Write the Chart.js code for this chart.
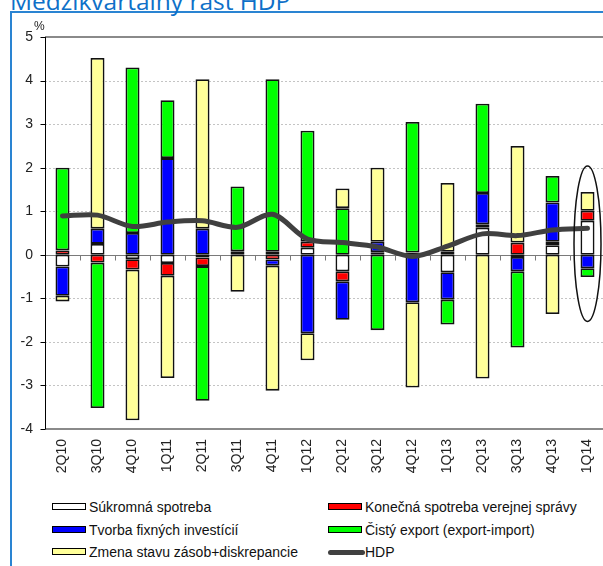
<!DOCTYPE html>
<html>
<head>
<meta charset="utf-8">
<script src="https://cdn.jsdelivr.net/npm/chart.js@4.4.1/dist/chart.umd.min.js"></script>
<style>
  body { margin: 0; width: 603px; height: 566px; overflow: hidden; background: #fff; position: relative;
         font-family: "Liberation Sans", Arial, sans-serif; }
  #frame { position: absolute; left: 10px; top: 11px; width: 700px; height: 600px;
           border-top: 2px solid #2a84d2; border-left: 2px solid #2a84d2; }
  #title { position: absolute; left: 10px; top: -11px; font: 24.5px "Open Sans"; line-height: 24px;
           color: #0e70c8; white-space: nowrap; }
  #chartBox { position: absolute; left: 0; top: 0; width: 620px; height: 485px; }
  .item { position: absolute; font-size: 14px; color: #111; line-height: 16px; white-space: nowrap; }
  .swatch { position: absolute; left: 0; top: 4px; width: 32px; height: 5px; border: 1.5px solid #000; }
  .lineSwatch { position: absolute; left: 0; top: 6px; width: 37px; height: 5px; border-radius: 3px; background: #404040; }
  .item span { position: absolute; left: 37px; top: 0; }
</style>
</head>
<body>
<div id="frame"></div>
<div id="title">Medzikvartálny rast HDP</div>
<div id="chartBox"><canvas id="gdpChart" width="620" height="485"></canvas></div>
<div id="legend"></div>
<script>
// Quarters on the x axis
const categories = ["2Q10", "3Q10", "4Q10", "1Q11", "2Q11", "3Q11", "4Q11", "1Q12",
                    "2Q12", "3Q12", "4Q12", "1Q13", "2Q13", "3Q13", "4Q13", "1Q14"];

// Contributions to growth (p.p.)
const privateCons = [-0.27, 0.25, -0.10, -0.19, -0.06, 0.00, 0.07, 0.16, -0.38, 0.00, 0.00, -0.40, 0.62, -0.05, 0.22, 0.78];
const govCons     = [0.10, -0.18, -0.24, -0.29, -0.20, 0.08, -0.11, 0.14, -0.23, 0.06, 0.05, 0.07, 0.08, 0.28, 0.08, 0.23];
const investment  = [-0.67, 0.35, 0.50, 2.22, 0.60, 0.00, -0.14, -1.80, -0.88, 0.24, -1.09, -0.63, 0.72, -0.33, 0.90, -0.31];
const netExport   = [1.90, -3.34, 3.80, 1.33, -3.09, 1.49, 3.96, 2.55, 1.07, -1.73, 3.00, -0.57, 2.05, -1.75, 0.61, -0.20];
const inventories = [-0.13, 3.92, -3.46, -2.35, 3.43, -0.85, -2.87, -0.62, 0.45, 1.70, -1.96, 1.58, -2.84, 2.22, -1.36, 0.43];
const gdp         = [0.89, 0.91, 0.65, 0.75, 0.78, 0.63, 0.93, 0.36, 0.28, 0.18, -0.04, 0.20, 0.48, 0.44, 0.57, 0.61];

const seriesNames = ["Súkromná spotreba", "Konečná spotreba verejnej správy", "Tvorba fixných investícií",
                     "Čistý export (export-import)", "Zmena stavu zásob+diskrepancie", "HDP"];
const barColors = ["#ffffff", "#ff0000", "#0000ff", "#00ff00", "#ffff99"];
const lineColor = "#404040";

// Y axis range and the circled quarter
const yMin = -4, yMax = 5;
const highlightIndex = 15;
const highlightRange = [-1.53, 2.04];

const fontFamily = '"Liberation Sans", Arial, sans-serif';

function barSet(label, data, color) {
  return {
    type: "bar", label: label, data: data, backgroundColor: color,
    borderColor: "#111", borderWidth: 1.8, borderSkipped: false,
    stack: "parts", order: 2, barPercentage: 0.4, categoryPercentage: 1
  };
}

// Gridlines, axes and the zero line with its tick marks
const decor = {
  id: "decor",
  beforeDatasetsDraw(chart) {
    const { ctx, chartArea: a, scales: { y } } = chart;
    const seg = (x1, y1, x2, y2) => { ctx.beginPath(); ctx.moveTo(x1, y1); ctx.lineTo(x2, y2); ctx.stroke(); };
    ctx.save();
    ctx.strokeStyle = "#c4c4c4"; ctx.lineWidth = 1; ctx.setLineDash([2, 2]);
    for (let v = yMin + 1; v < yMax; v++) {
      if (v === 0) continue;
      const py = Math.round(y.getPixelForValue(v)) + 0.5;
      seg(a.left, py, a.right, py);
    }
    ctx.setLineDash([]);
    ctx.strokeStyle = "#8a8a8a"; ctx.lineWidth = 2;
    seg(a.left, a.top, a.right, a.top);
    seg(a.left, a.bottom, a.right, a.bottom);
    const z = Math.round(y.getPixelForValue(0)) + 0.5;
    ctx.lineWidth = 1; ctx.strokeStyle = "#7a7a7a";
    seg(a.left, z, a.right, z);
    const step = (a.right - a.left) / categories.length;
    for (let i = 1; i <= categories.length; i++) {
      const px = Math.round(a.left + i * step) + 0.5;
      seg(px, z, px, z + 5);
    }
    ctx.strokeStyle = "#000";
    const ax = Math.round(a.left) + 0.5;
    seg(ax, a.top, ax, a.bottom);
    for (let v = yMin; v <= yMax; v++) {
      const py = Math.round(y.getPixelForValue(v)) + 0.5;
      seg(ax - 5, py, ax, py);
    }
    ctx.restore();
  },
  afterDatasetsDraw(chart) {
    const { ctx, scales: { x, y } } = chart;
    ctx.save();
    const cx = x.getPixelForValue(highlightIndex);
    const top = y.getPixelForValue(highlightRange[1]);
    const bottom = y.getPixelForValue(highlightRange[0]);
    ctx.strokeStyle = "#111"; ctx.lineWidth = 1.5;
    ctx.beginPath();
    ctx.ellipse(cx, (top + bottom) / 2, 13.5, (bottom - top) / 2, 0, 0, Math.PI * 2);
    ctx.stroke();
    ctx.fillStyle = "#222"; ctx.font = "12px " + fontFamily;
    ctx.textBaseline = "alphabetic"; ctx.textAlign = "left";
    ctx.fillText("%", 34, 30);
    ctx.restore();
  }
};

const datasets = [
  barSet(seriesNames[0], privateCons, barColors[0]),
  barSet(seriesNames[1], govCons, barColors[1]),
  barSet(seriesNames[2], investment, barColors[2]),
  barSet(seriesNames[3], netExport, barColors[3]),
  barSet(seriesNames[4], inventories, barColors[4]),
  {
    type: "line", label: seriesNames[5], data: gdp, borderColor: lineColor, borderWidth: 5,
    pointRadius: 0, tension: 0.3, order: 1, stack: "line",
    borderCapStyle: "round", borderJoinStyle: "round"
  }
];

new Chart(document.getElementById("gdpChart"), {
  type: "bar",
  data: { labels: categories, datasets: datasets },
  options: {
    responsive: false,
    animation: false,
    layout: { padding: { top: 37, right: 15, bottom: 0, left: 0 } },
    plugins: { legend: { display: false }, tooltip: { enabled: false } },
    scales: {
      x: {
        stacked: true, offset: true,
        grid: { display: false, drawTicks: false }, border: { display: false },
        ticks: { color: "#222", font: { family: fontFamily, size: 14 }, minRotation: 90, maxRotation: 90,
                 autoSkip: false, padding: 10 },
        afterFit(s) { s.height = 56; }
      },
      y: {
        stacked: true, min: yMin, max: yMax,
        grid: { display: false, drawTicks: false }, border: { display: false },
        ticks: { stepSize: 1, color: "#222", font: { family: fontFamily, size: 14 }, padding: 12 },
        afterFit(s) { s.width = 45; }
      }
    }
  },
  plugins: [decor]
});

// Two-column legend under the chart
const legendCols = [52, 328];
const legendRows = [507, 529.5, 552];
const legend = document.getElementById("legend");
seriesNames.forEach((name, i) => {
  const item = document.createElement("div");
  item.className = "item";
  item.style.left = legendCols[i % 2] + "px";
  item.style.top = (legendRows[Math.floor(i / 2)] - 8) + "px";
  const mark = document.createElement("div");
  if (i < barColors.length) {
    mark.className = "swatch";
    mark.style.background = barColors[i];
  } else {
    mark.className = "lineSwatch";
  }
  const text = document.createElement("span");
  text.textContent = name;
  item.appendChild(mark);
  item.appendChild(text);
  legend.appendChild(item);
});
</script>
</body>
</html>
